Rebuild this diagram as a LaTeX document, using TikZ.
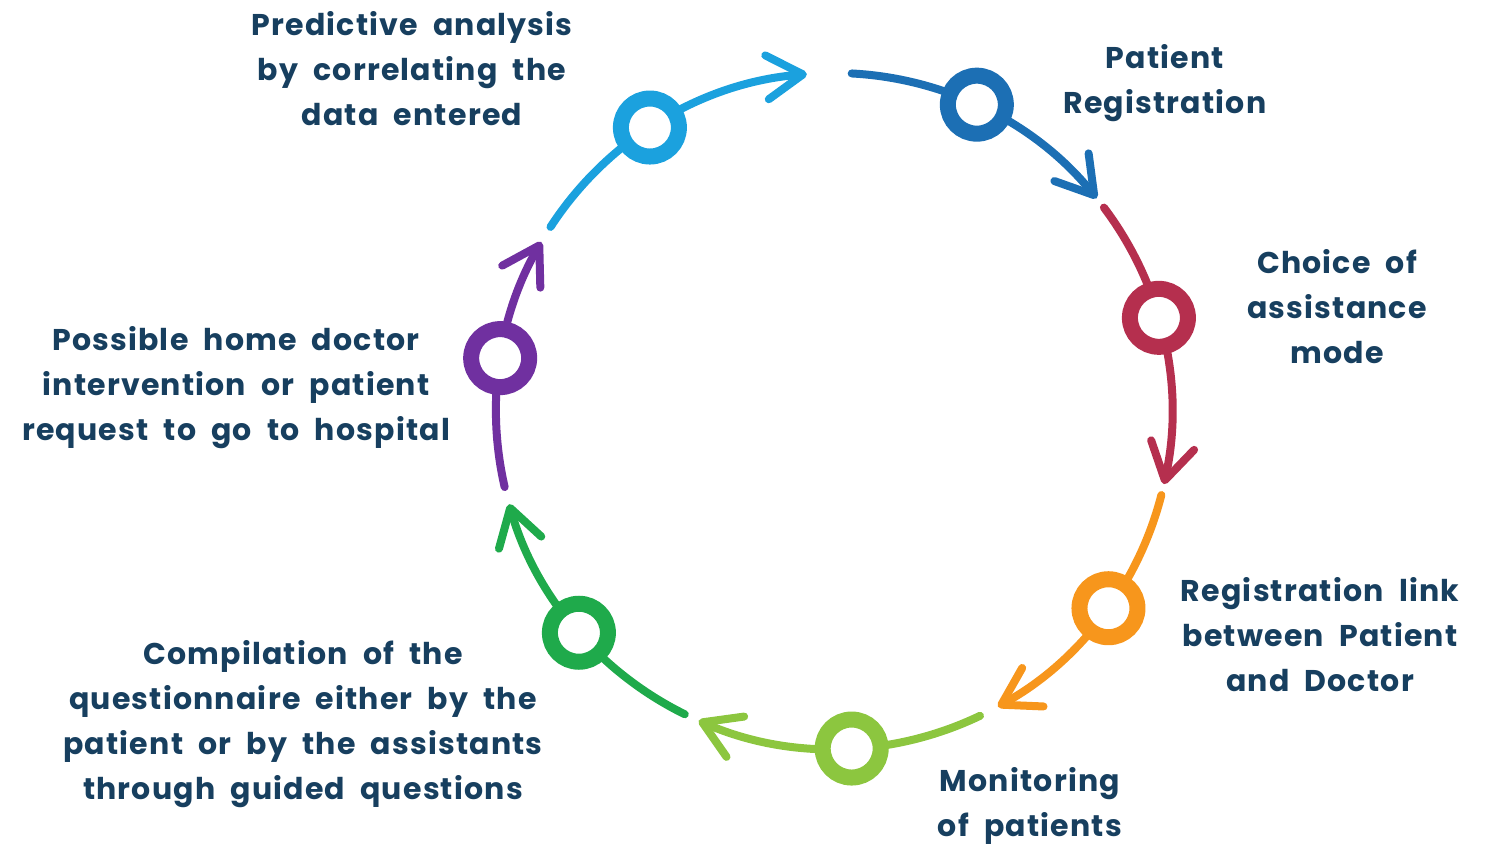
\documentclass[tikz,border=0pt]{standalone}
\usepackage{fontspec}
\setmainfont{Poppins}[LetterSpace=4,WordSpace=2]
\usepackage{tikz}
\usetikzlibrary{arrows.meta}

\definecolor{txt}{HTML}{173F5F}
\definecolor{c1}{HTML}{1C6FB4}
\definecolor{c2}{HTML}{B52F4E}
\definecolor{c3}{HTML}{F7961C}
\definecolor{c4}{HTML}{8CC63F}
\definecolor{c5}{HTML}{1FAA4B}
\definecolor{c6}{HTML}{7030A0}
\definecolor{c7}{HTML}{1BA1DE}

\begin{document}
\begin{tikzpicture}[x=1pt,y=1pt,
  flow/.style={line width=8pt,line cap=round,-{Straight Barb[length=36pt,width=44pt,round]}},
  ring/.style={circle,draw=#1,fill=white,line width=16pt,minimum size=58pt,inner sep=0pt},
  lbl/.style={text=txt,font=\fontsize{30}{45}\selectfont\bfseries,align=center}]
\useasboundingbox (-834,-437) rectangle (664,411);

% zacetki lokov
\coordinate (s1) at (87:338);
\coordinate (s2) at (37:338);
\coordinate (s3) at (-14.4:338);
\coordinate (s4) at (-64.4:338);
\coordinate (s5) at (-116.2:338);
\coordinate (s6) at (-167:338);
\coordinate (s7) at (-213:338);

\draw[flow,c1] (s1) arc[start angle=87,end angle=39,radius=338];
\draw[flow,c2] (s2) arc[start angle=37,end angle=-12.5,radius=338];
\draw[flow,c3] (s3) arc[start angle=-14.4,end angle=-61,radius=338];
\draw[flow,c4] (s4) arc[start angle=-64.4,end angle=-113.6,radius=338];
\draw[flow,c5] (s5) arc[start angle=-116.2,end angle=-164,radius=338];
\draw[flow,c6] (s6) arc[start angle=-167,end angle=-210,radius=338];
\draw[flow,c7] (s7) arc[start angle=-213,end angle=-265.4,radius=338];

\node[lbl] (t1) at (331,328) {Patient\\Registration};
\node[lbl] (t2) at (503,104) {Choice of\\assistance\\mode};
\node[lbl] (t3) at (486,-224) {Registration link\\between Patient\\and Doctor};
\node[lbl] (t4) at (196,-395) {Monitoring\\of patients};
\node[lbl] (t5) at (-531,-313) {Compilation of the\\questionnaire either by the\\patient or by the assistants\\through guided questions};
\node[lbl] (t6) at (-598,23) {Possible home doctor\\intervention or patient\\request to go to hospital};
\node[lbl] (t7) at (-422,342) {Predictive analysis\\by correlating the\\data entered};

\foreach \ang/\col/\nm in {65/c1/r1,16/c2/r2,-35.7/c3/r3,-87/c4/r4,-139/c5/r5,-189/c6/r6,-237/c7/r7}
\node[ring=\col] (\nm) at (\ang:338) {};
\end{tikzpicture}
\end{document}
